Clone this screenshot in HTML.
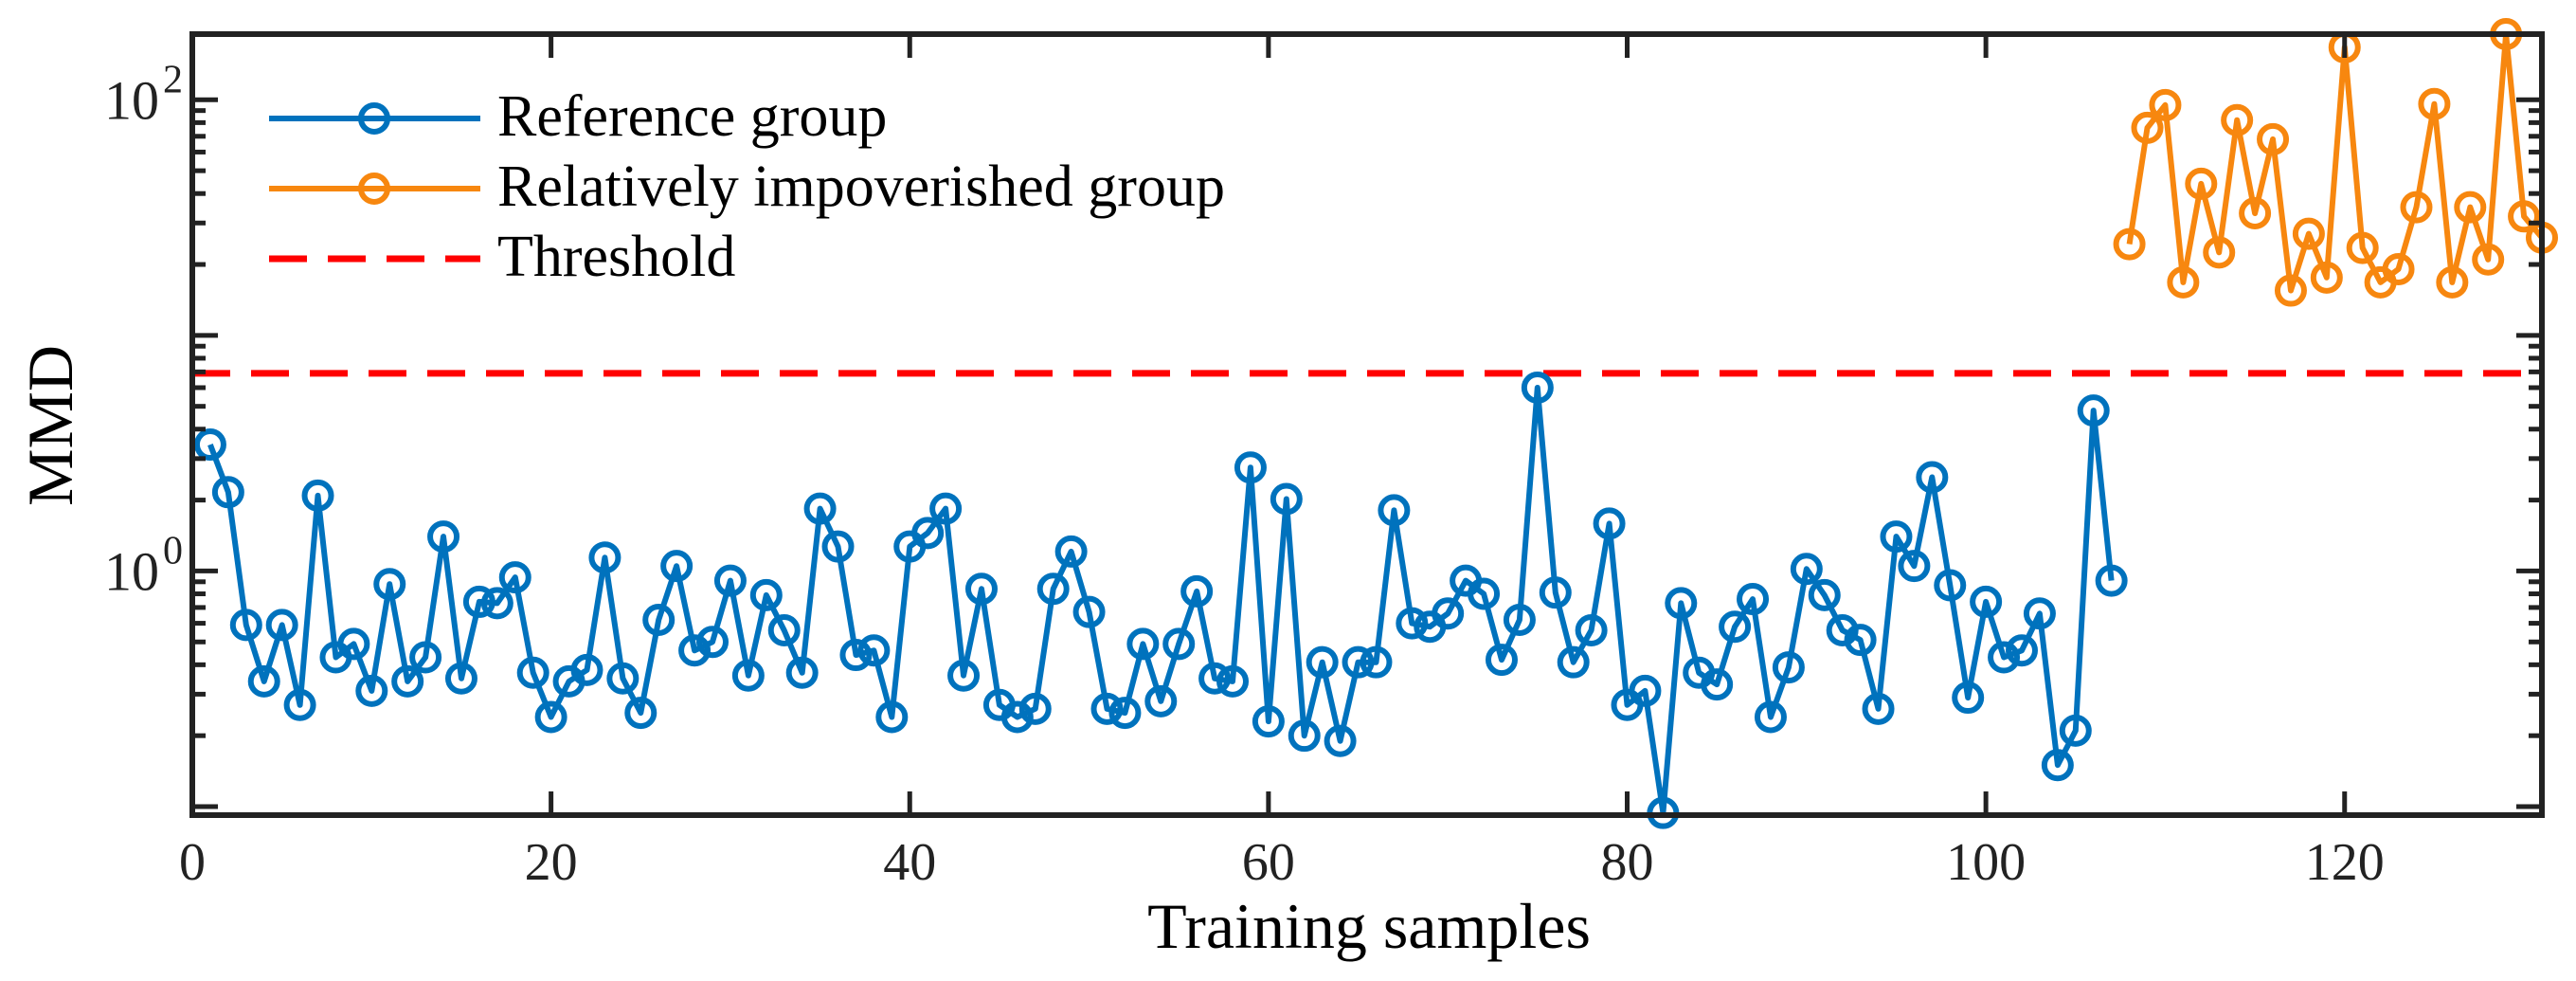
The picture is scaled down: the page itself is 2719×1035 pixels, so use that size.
<!DOCTYPE html>
<html><head><meta charset="utf-8">
<style>
html,body{margin:0;padding:0;background:#fff;}
svg{display:block;font-family:"Liberation Serif",serif;}
</style></head>
<body>
<svg id="chart" width="2719" height="1035" viewBox="0 0 2719 1035">
  <g id="plot"></g>
  <rect x="203" y="36" width="2480" height="824" fill="none" stroke="#222" stroke-width="6"/>
  <g id="ticks"></g>
  <text x="1445" y="1000" font-size="68" text-anchor="middle" fill="#000">Training samples</text>
  <text transform="translate(76,449) rotate(-90)" font-size="68" text-anchor="middle" fill="#000">MMD</text>
  <g>
    <g>
      <line x1="284" y1="125" x2="507" y2="125" stroke="#0072BD" stroke-width="6"/>
      <ellipse cx="395" cy="125" rx="14" ry="14" fill="none" stroke="#0072BD" stroke-width="6"/>
      <text x="525" y="143" font-size="62" fill="#000">Reference group</text>
    </g>
    <g>
      <line x1="284" y1="199" x2="507" y2="199" stroke="#F7870F" stroke-width="6"/>
      <ellipse cx="395" cy="199" rx="14" ry="14" fill="none" stroke="#F7870F" stroke-width="6"/>
      <text x="525" y="217" font-size="62" fill="#000">Relatively impoverished group</text>
    </g>
    <g>
      <line x1="284" y1="273" x2="507" y2="273" stroke="#FF0000" stroke-width="7" stroke-dasharray="40,22"/>
      <text x="525" y="291" font-size="62" fill="#000">Threshold</text>
    </g>
  </g>
</svg>
<script>
const refValues = [3.44,2.16,0.59,0.34,0.59,0.27,2.09,0.43,0.49,0.31,0.88,0.34,0.43,1.4,0.35,0.74,0.73,0.94,0.37,0.24,0.34,0.38,1.14,0.35,0.25,0.62,1.05,0.46,0.5,0.91,0.36,0.79,0.56,0.37,1.84,1.27,0.44,0.46,0.24,1.27,1.45,1.84,0.36,0.84,0.27,0.24,0.26,0.84,1.21,0.67,0.26,0.25,0.49,0.28,0.49,0.82,0.35,0.34,2.75,0.23,2.02,0.2,0.41,0.19,0.41,0.41,1.81,0.6,0.58,0.66,0.91,0.8,0.42,0.62,6.0,0.81,0.41,0.56,1.59,0.27,0.31,0.094,0.73,0.37,0.33,0.58,0.76,0.24,0.39,1.02,0.79,0.56,0.51,0.26,1.4,1.05,2.5,0.87,0.29,0.74,0.43,0.46,0.66,0.15,0.21,4.8,0.91];
const impValues = [24.4,76,95,16.8,44,22.5,82,33,68,15.5,27,17.6,167,23.5,16.8,19.1,35,96,16.8,35,21,190,32,26];
const refStart = 1;
const impStart = 108;
const threshold = 6.9;
const xTicks = [0,20,40,60,80,100,120];
const yMajor = [0,2];

const X0=203, X1=2683, Y0=860, Y1=36;
const xMin=0, xMax=131, lMin=Math.log10(0.092), lMax=Math.log10(190);
const xs = v => X0 + (v-xMin)/(xMax-xMin)*(X1-X0);
const ys = v => Y0 - (Math.log10(v)-lMin)/(lMax-lMin)*(Y0-Y1);
const NS='http://www.w3.org/2000/svg';
const plot=document.getElementById('plot'), ticks=document.getElementById('ticks');
function mk(t,a,p){const e=document.createElementNS(NS,t);for(const k in a)e.setAttribute(k,a[k]);p.appendChild(e);return e;}

const th=mk('line',{x1:X0,x2:X1-10,y1:ys(threshold),y2:ys(threshold),stroke:'#FF0000','stroke-width':7,'stroke-dasharray':'40,22'},plot);



function series(vals,start,color,name){
  const g=mk('g',{},plot);
  
  
  const pts=vals.map((v,i)=>xs(start+i).toFixed(1)+','+ys(v).toFixed(1)).join(' ');
  const pl=mk('polyline',{points:pts,fill:'none',stroke:color,'stroke-width':6,'stroke-linejoin':'round'},g);
  
  
  vals.forEach((v,i)=>{
    const c=mk('ellipse',{cx:xs(start+i),cy:ys(v),rx:14,ry:14,fill:'none',stroke:color,'stroke-width':6},g);
    
    
  });
}
series(refValues,refStart,'#0072BD','reference-group-series');
series(impValues,impStart,'#F7870F','impoverished-group-series');

xTicks.forEach(t=>{
  const x=xs(t);
  mk('line',{x1:x,x2:x,y1:Y0,y2:Y0-25,stroke:'#222','stroke-width':5},ticks);
  mk('line',{x1:x,x2:x,y1:Y1,y2:Y1+25,stroke:'#222','stroke-width':5},ticks);
  const tx=mk('text',{x:x,y:928,'font-size':56,'text-anchor':'middle',fill:'#222'},ticks);
  tx.textContent=t;
  
  
});
for(let d=-2; d<=2; d++){
  for(let m=1;m<10;m++){
    const v=m*Math.pow(10,d);
    const l=Math.log10(v);
    if(l<lMin||l>lMax) continue;
    const y=ys(v), len=(m===1)?27:14;
    mk('line',{x1:X0,x2:X0+len,y1:y,y2:y,stroke:'#222','stroke-width':5},ticks);
    mk('line',{x1:X1,x2:X1-len,y1:y,y2:y,stroke:'#222','stroke-width':5},ticks);
  }
}
yMajor.forEach(p=>{
  const y=ys(Math.pow(10,p));
  const tx=mk('text',{x:168,y:y+20,'font-size':58,'text-anchor':'end',fill:'#222'},ticks);
  tx.textContent='10';
  
  
  const sp=mk('text',{x:172,y:y-8,'font-size':42,'text-anchor':'start',fill:'#222'},ticks);
  sp.textContent=p;
  
  
});
</script>
</body></html>
